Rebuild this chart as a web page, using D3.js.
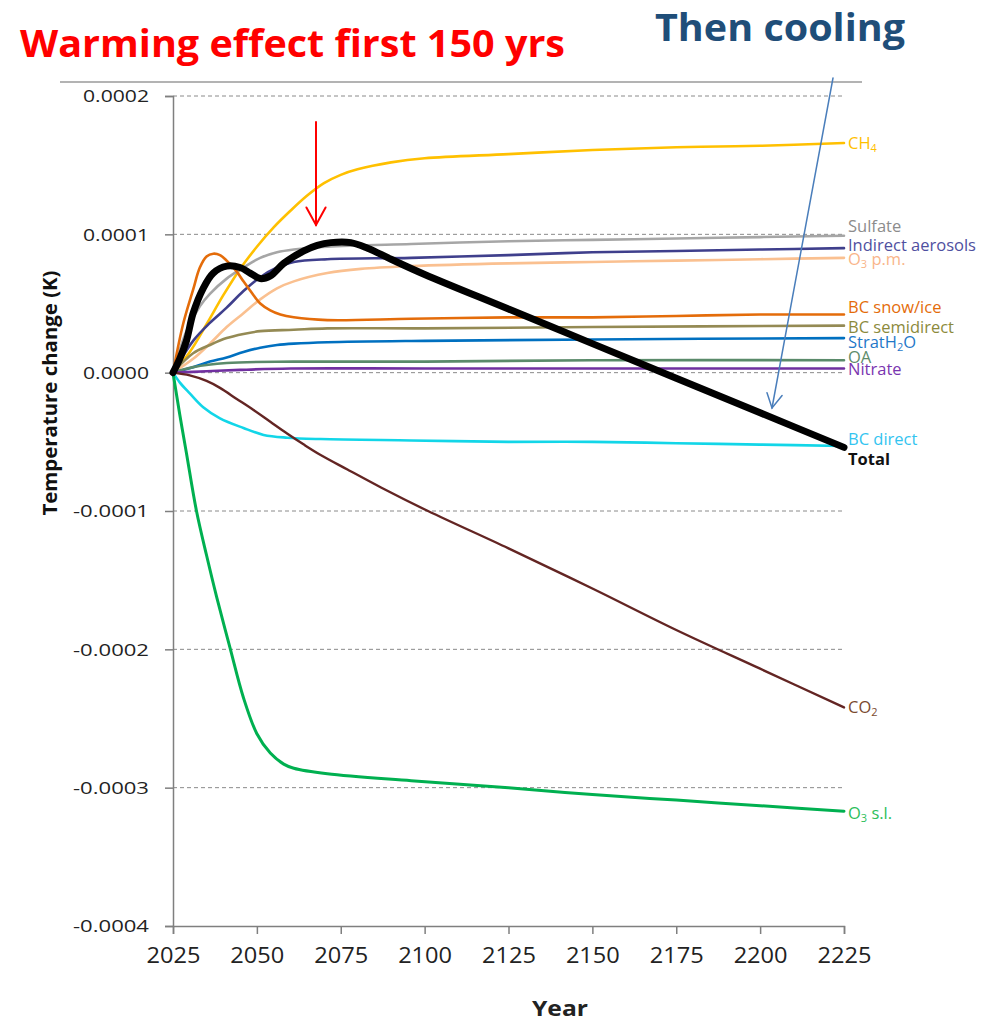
<!DOCTYPE html>
<html><head><meta charset="utf-8">
<script src="https://cdn.jsdelivr.net/npm/d3@7/dist/d3.min.js"></script>
<style>body{margin:0;background:#fff}</style>
</head><body>
<svg id="c" width="990" height="1023"></svg>
<script>
// ---------- DATA ----------
const yearTicks = [2025, 2050, 2075, 2100, 2125, 2150, 2175, 2200, 2225];
const tempTicks = [0.0002, 0.0001, 0, -0.0001, -0.0002, -0.0003, -0.0004];
const tempTickLabels = ["0.0002", "0.0001", "0.0000", "-0.0001", "-0.0002", "-0.0003", "-0.0004"];
const UNIT = 1e-4; // series values below are in units of 1e-4 K

const ch4 = [[2025,0],[2030,0.15],[2035,0.35],[2040,0.56],[2045,0.75],[2050,0.91],[2055,1.05],[2060,1.17],[2065,1.28],[2070,1.37],[2075,1.43],[2080,1.47],[2090,1.52],[2100,1.55],[2125,1.58],[2150,1.61],[2175,1.63],[2200,1.64],[2225,1.66]];
const sulfate = [[2025,0],[2029,0.30],[2033,0.48],[2036,0.57],[2041,0.68],[2046,0.76],[2051,0.83],[2056,0.87],[2061,0.89],[2071,0.91],[2096,0.93],[2125,0.95],[2150,0.96],[2175,0.97],[2200,0.98],[2225,0.99]];
const indirectAerosols = [[2025,0],[2031,0.23],[2036,0.36],[2041,0.47],[2046,0.59],[2051,0.69],[2056,0.76],[2061,0.80],[2071,0.82],[2096,0.83],[2125,0.85],[2150,0.87],[2175,0.88],[2200,0.89],[2225,0.90]];
const o3pm = [[2025,0],[2031,0.10],[2036,0.21],[2041,0.33],[2046,0.43],[2051,0.53],[2056,0.61],[2061,0.66],[2071,0.72],[2081,0.75],[2096,0.77],[2125,0.79],[2150,0.80],[2175,0.81],[2200,0.82],[2225,0.83]];
const bcSnowIce = [[2025,0],[2028,0.35],[2031,0.60],[2033,0.76],[2035,0.84],[2037,0.86],[2039,0.85],[2041,0.81],[2044,0.73],[2046,0.66],[2049,0.56],[2051,0.50],[2054,0.45],[2057,0.42],[2061,0.40],[2071,0.38],[2096,0.39],[2125,0.40],[2150,0.40],[2175,0.41],[2200,0.42],[2225,0.42]];
const bcSemidirect = [[2025,0],[2031,0.14],[2036,0.20],[2041,0.25],[2046,0.28],[2051,0.30],[2061,0.31],[2071,0.32],[2100,0.32],[2150,0.33],[2225,0.34]];
const stratH2O = [[2025,0],[2031,0.04],[2036,0.08],[2041,0.11],[2046,0.15],[2051,0.18],[2056,0.20],[2061,0.21],[2071,0.22],[2100,0.23],[2150,0.24],[2225,0.25]];
const oa = [[2025,0],[2031,0.04],[2041,0.07],[2061,0.08],[2100,0.08],[2150,0.09],[2225,0.09]];
const nitrate = [[2025,0],[2035,0.01],[2045,0.02],[2060,0.03],[2100,0.03],[2225,0.03]];
const bcDirect = [[2025,0],[2027,-0.07],[2030,-0.15],[2034,-0.25],[2039,-0.33],[2046,-0.40],[2052,-0.45],[2059,-0.47],[2069,-0.48],[2096,-0.49],[2125,-0.50],[2150,-0.50],[2175,-0.51],[2200,-0.52],[2225,-0.53]];
const co2 = [[2025,0],[2030,-0.02],[2035,-0.06],[2039,-0.11],[2044,-0.19],[2049,-0.27],[2054,-0.355],[2059,-0.44],[2064,-0.52],[2069,-0.595],[2077,-0.70],[2087,-0.83],[2101,-1.00],[2125,-1.27],[2150,-1.56],[2175,-1.86],[2200,-2.14],[2225,-2.42]];
const o3sl = [[2025,0],[2027,-0.30],[2029,-0.58],[2032,-1.00],[2035,-1.32],[2038,-1.62],[2042,-1.99],[2046,-2.35],[2050,-2.61],[2054,-2.75],[2058,-2.83],[2061,-2.86],[2071,-2.90],[2096,-2.95],[2125,-3.00],[2150,-3.05],[2175,-3.09],[2200,-3.13],[2225,-3.17]];
const total = [[2025,0],[2027,0.10],[2029,0.23],[2031,0.43],[2034,0.61],[2037,0.72],[2041,0.77],[2045,0.76],[2048,0.72],[2051,0.68],[2054,0.70],[2058,0.79],[2064,0.88],[2068,0.92],[2072,0.94],[2078,0.94],[2083,0.90],[2090,0.82],[2100,0.71],[2125,0.46],[2150,0.21],[2175,-0.04],[2200,-0.29],[2225,-0.54]];

// label text: [main, subscript, rest]
const seriesNames = [["CH","4",""],["Sulfate","",""],["Indirect aerosols","",""],["O","3"," p.m."],["BC snow/ice","",""],["BC semidirect","",""],["StratH","2","O"],["OA","",""],["Nitrate","",""],["BC direct","",""],["CO","2",""],["O","3"," s.l."],["Total","",""]];
const seriesData = [ch4, sulfate, indirectAerosols, o3pm, bcSnowIce, bcSemidirect, stratH2O, oa, nitrate, bcDirect, co2, o3sl, total];

const titleText = "Warming effect first 150 yrs";
const subtitleText = "Then cooling";
const xTitle = "Year";
const yTitle = "Temperature change (K)";

// ---------- STYLE ----------
const lineColors = ["#FFC000","#A6A6A6","#3F3F8C","#FAC090","#E46C0A","#948A54","#0070C0","#5A8A6A","#7030A0","#12D6E8","#632523","#00B050","#000000"];
const labelColors = ["#FFC000","#8C8C8C","#4F4FA0","#F9B58A","#E46C0A","#8C8A3C","#1F78C8","#5E8C6A","#7A35B0","#33C4F0","#7A4A2E","#2DBE5A","#111111"];
const lineWidths = [2.6,2.6,2.6,2.6,2.6,2.6,2.6,2.6,2.6,2.6,2.4,3,7];
const labelOffsets = [0,-9,-3,1,-7,2,4,-3,1,-7,0,2,12];

const svg = d3.select("#c");
const x = d3.scaleLinear().domain([2025, 2225]).range([173, 844]);
const y = d3.scaleLinear().domain([-0.0004, 0.0002]).range([926, 96]);
const FONT = "'Open Sans', 'Noto Sans', sans-serif";

// top border line
svg.append("line").attr("x1", 60).attr("x2", 862).attr("y1", 82).attr("y2", 82)
  .attr("stroke", "#9a9a9a").attr("stroke-width", 1.5);

// gridlines
svg.append("g").selectAll("line").data(tempTicks.filter(t => t > -0.0004)).join("line")
  .attr("x1", x(2025)).attr("x2", x(2225))
  .attr("y1", d => y(d)).attr("y2", d => y(d))
  .attr("stroke", "#8a8a8a").attr("stroke-width", 1).attr("stroke-dasharray", "4,3");

// y axis
const yAxis = d3.axisLeft(y).tickValues(tempTicks).tickSize(8)
  .tickFormat((d, i) => tempTickLabels[i]);
const gy = svg.append("g").attr("transform", `translate(${x(2025)},0)`).call(yAxis);
gy.select(".domain").attr("stroke", "#7f7f7f").attr("stroke-width", 1.5);
gy.selectAll(".tick line").attr("stroke", "#7f7f7f").attr("stroke-width", 1.5);
gy.selectAll(".tick text").attr("font-family", FONT).attr("font-size", 17).attr("fill", "#222")
  .attr("x", -24).attr("dy", "0.35em")
  .each(function(d, i) { d3.select(this).attr("textLength", tempTickLabels[i].length > 6 ? 76 : 66).attr("lengthAdjust", "spacingAndGlyphs"); });

// x axis
const xAxis = d3.axisBottom(x).tickValues(yearTicks).tickSize(8).tickFormat(d3.format("d"));
const gx = svg.append("g").attr("transform", `translate(0,${y(-0.0004)})`).call(xAxis);
gx.select(".domain").attr("stroke", "#7f7f7f").attr("stroke-width", 1.5);
gx.selectAll(".tick line").attr("stroke", "#7f7f7f").attr("stroke-width", 1.5);
gx.selectAll(".tick text").attr("font-family", FONT).attr("font-size", 21).attr("fill", "#222")
  .attr("y", 22).attr("textLength", 54).attr("lengthAdjust", "spacingAndGlyphs");

// axis titles
svg.append("text").attr("transform", "translate(57,393) rotate(-90)")
  .attr("text-anchor", "middle").attr("font-family", FONT).attr("font-weight", "bold")
  .attr("font-size", 19).attr("fill", "#111")
  .attr("textLength", 245).attr("lengthAdjust", "spacingAndGlyphs").text(yTitle);
svg.append("text").attr("x", 560).attr("y", 1016).attr("text-anchor", "middle")
  .attr("font-family", FONT).attr("font-weight", "bold").attr("font-size", 22).attr("fill", "#222")
  .attr("textLength", 56).attr("lengthAdjust", "spacingAndGlyphs").text(xTitle);

// series lines
const line = d3.line().x(d => x(d[0])).y(d => y(d[1] * UNIT)).curve(d3.curveCatmullRom.alpha(0.5));
const gl = svg.append("g").attr("fill", "none").attr("stroke-linejoin", "round").attr("stroke-linecap", "round");
seriesData.forEach((s, i) => {
  gl.append("path").attr("d", line(s)).attr("stroke", lineColors[i]).attr("stroke-width", lineWidths[i]);
});

// end labels
seriesData.forEach((s, i) => {
  const last = s[s.length - 1];
  const t = svg.append("text").attr("x", x(2225) + 4).attr("y", y(last[1] * UNIT) + labelOffsets[i])
    .attr("dy", "0.35em").attr("font-family", FONT).attr("font-size", 16.5)
    .attr("fill", labelColors[i]).attr("font-weight", i === 12 ? "bold" : "normal");
  const n = seriesNames[i];
  t.append("tspan").text(n[0]);
  if (n[1]) t.append("tspan").attr("font-size", 11).attr("dy", 3).text(n[1]);
  if (n[2]) t.append("tspan").attr("dy", n[1] ? -3 : 0).text(n[2]);
});

// titles
svg.append("text").attr("x", 20).attr("y", 57).attr("font-family", FONT).attr("font-weight", "bold")
  .attr("font-size", 38).attr("fill", "#FF0000")
  .attr("textLength", 545).attr("lengthAdjust", "spacingAndGlyphs").text(titleText);
svg.append("text").attr("x", 655).attr("y", 41).attr("font-family", FONT).attr("font-weight", "bold")
  .attr("font-size", 37).attr("fill", "#1F4E79")
  .attr("textLength", 250).attr("lengthAdjust", "spacingAndGlyphs").text(subtitleText);

// arrows
function arrow(x1, y1, x2, y2, color, w, head) {
  const g = svg.append("g").attr("stroke", color).attr("stroke-width", w).attr("fill", "none")
    .attr("stroke-linecap", "round");
  g.append("line").attr("x1", x1).attr("y1", y1).attr("x2", x2).attr("y2", y2);
  const a = Math.atan2(y2 - y1, x2 - x1);
  const spread = 0.5;
  const p1 = [x2 - head * Math.cos(a - spread), y2 - head * Math.sin(a - spread)];
  const p2 = [x2 - head * Math.cos(a + spread), y2 - head * Math.sin(a + spread)];
  g.append("path").attr("d", `M${p1[0]},${p1[1]}L${x2},${y2}L${p2[0]},${p2[1]}`);
}
arrow(316, 122, 316, 225, "#FF0000", 2, 20);
arrow(833, 78, 772, 408, "#4A7EBB", 1.5, 16);
</script>
</body></html>
